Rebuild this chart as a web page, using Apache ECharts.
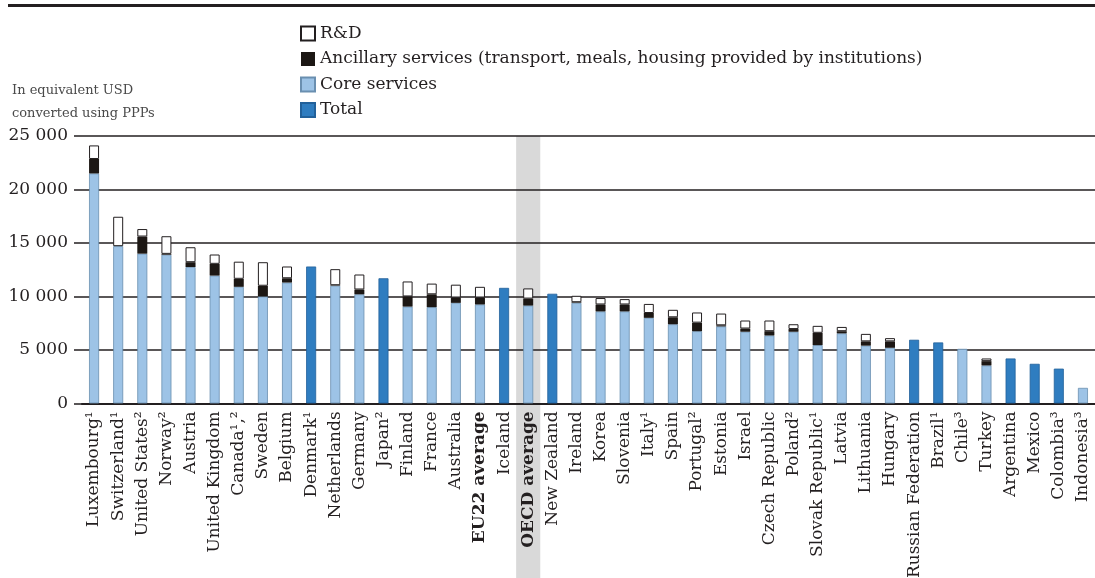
<!DOCTYPE html>
<html>
<head>
<meta charset="utf-8">
<script src="https://cdn.jsdelivr.net/npm/echarts@6/dist/echarts.min.js"></script>
<style>
html,body{margin:0;padding:0;background:#fff;}
#chart{width:1095px;height:578px;}
</style>
</head>
<body>
<div id="chart"></div>
<script>
var categories = ['Luxembourg¹','Switzerland¹','United States²','Norway²','Austria','United Kingdom','Canada¹,²','Sweden','Belgium','Denmark¹','Netherlands','Germany','Japan²','Finland','France','Australia','EU22 average','Iceland','OECD average','New Zealand','Ireland','Korea','Slovenia','Italy¹','Spain','Portugal²','Estonia','Israel','Czech Republic','Poland²','Slovak Republic¹','Latvia','Lithuania','Hungary','Russian Federation','Brazil¹','Chile³','Turkey','Argentina','Mexico','Colombia³','Indonesia³'];
var coreServices = [21500,14700,14000,13900,12750,11950,10900,10000,11300,'-',11000,10200,'-',9050,9000,9400,9250,'-',9150,'-',9400,8600,8600,8000,7400,6750,7200,6700,6350,6700,5450,6550,5400,5200,'-','-',5100,3550,'-','-','-',1450];
var ancillary = [1350,0,1600,80,450,1100,750,1000,400,'-',50,450,'-',950,1200,500,650,'-',650,'-',60,650,650,450,650,800,100,300,400,250,1150,200,400,600,'-','-','-',400,'-','-','-','-'];
var rnd = [1270,2750,700,1650,1400,870,1600,2200,1100,'-',1500,1400,'-',1400,1000,1200,1000,'-',950,'-',600,600,500,850,700,950,1100,750,1000,450,650,400,700,300,'-','-','-',250,'-','-','-','-'];
var total = ['-','-','-','-','-','-','-','-','-',12800,'-','-',11700,'-','-','-','-',10800,'-',10250,'-','-','-','-','-','-','-','-','-','-','-','-','-','-',5950,5700,'-','-',4200,3700,3250,'-'];
var yTicks = {min:0, max:25000, interval:5000};
var boldCats = ['EU22 average','OECD average'];
var highlightCat = 'OECD average';

var FONT = 'DejaVu Serif';
var TXT = '#231f20';
var chart = echarts.init(document.getElementById('chart'), null, {renderer:'canvas'});
var option = {
  animation:false,
  backgroundColor:'#fff',
  textStyle:{fontFamily:FONT},
  legend:{
    orient:'vertical', left:295, top:20, itemWidth:14, itemHeight:14, itemGap:8.5,
    icon:'rect',
    data:['R&D','Ancillary services (transport, meals, housing provided by institutions)','Core services','Total'],
    textStyle:{fontFamily:FONT, fontSize:17, color:TXT}
  },
  grid:{left:82, right:0, top:136, bottom:174.6, containLabel:false, outerBoundsMode:'none'},
  xAxis:{
    type:'category', data:categories,
    axisLine:{show:true, lineStyle:{color:TXT, width:2}},
    axisTick:{show:false},
    axisLabel:{rotate:90, interval:0, margin:8, fontSize:17, color:TXT, fontFamily:FONT,
      formatter:function(v){ return boldCats.indexOf(v)>=0 ? '{b|'+v+'}' : v; },
      rich:{b:{fontWeight:'bold', fontSize:17, fontFamily:FONT, color:TXT}}
    }
  },
  yAxis:{
    type:'value', min:yTicks.min, max:yTicks.max, interval:yTicks.interval,
    name:'In equivalent USD\nconverted using PPPs', nameLocation:'end', nameGap:11,
    nameTextStyle:{fontFamily:FONT, fontSize:13, color:'#4a4a4a', align:'left', lineHeight:23, padding:[0,0,0,-70]},
    axisLine:{show:false},
    axisTick:{show:true, length:8, lineStyle:{color:TXT, width:1.5}},
    axisLabel:{margin:14, fontSize:17, color:TXT, fontFamily:FONT,
      formatter:function(v){ return String(v).replace(/\B(?=(\d{3})+(?!\d))/g,' '); }},
    splitLine:{show:true, lineStyle:{color:TXT, width:1.5}}
  },
  series:[
    {name:'Core services', type:'bar', stack:'s', data:coreServices, barWidth:10,
      itemStyle:{color:'#9dc3e6', borderColor:'#6a8fb0', borderWidth:0.8}},
    {name:'Ancillary services (transport, meals, housing provided by institutions)', type:'bar', stack:'s', data:ancillary, barWidth:10,
      itemStyle:{color:'#1c1714'}},
    {name:'R&D', type:'bar', stack:'s', data:rnd, barWidth:10,
      itemStyle:{color:'#ffffff', borderColor:'#231f20', borderWidth:1}},
    {name:'Total', type:'bar', stack:'s', data:total, barWidth:10,
      itemStyle:{color:'#2f7dc0', borderColor:'#22619a', borderWidth:0.8}}
  ]
};
chart.setOption(option);
var cx = chart.convertToPixel({xAxisIndex:0}, highlightCat);
var band = 1013/categories.length;
chart.setOption({
  graphic:[
    {type:'rect', z:-10, silent:true, shape:{x:cx-band/2, y:136, width:band, height:578-136}, style:{fill:'#d9d9d9'}},
    {type:'line', z:5, silent:true, shape:{x1:8, y1:5.5, x2:1095, y2:5.5}, style:{stroke:TXT, lineWidth:3}}
  ]
});
</script>
</body>
</html>
